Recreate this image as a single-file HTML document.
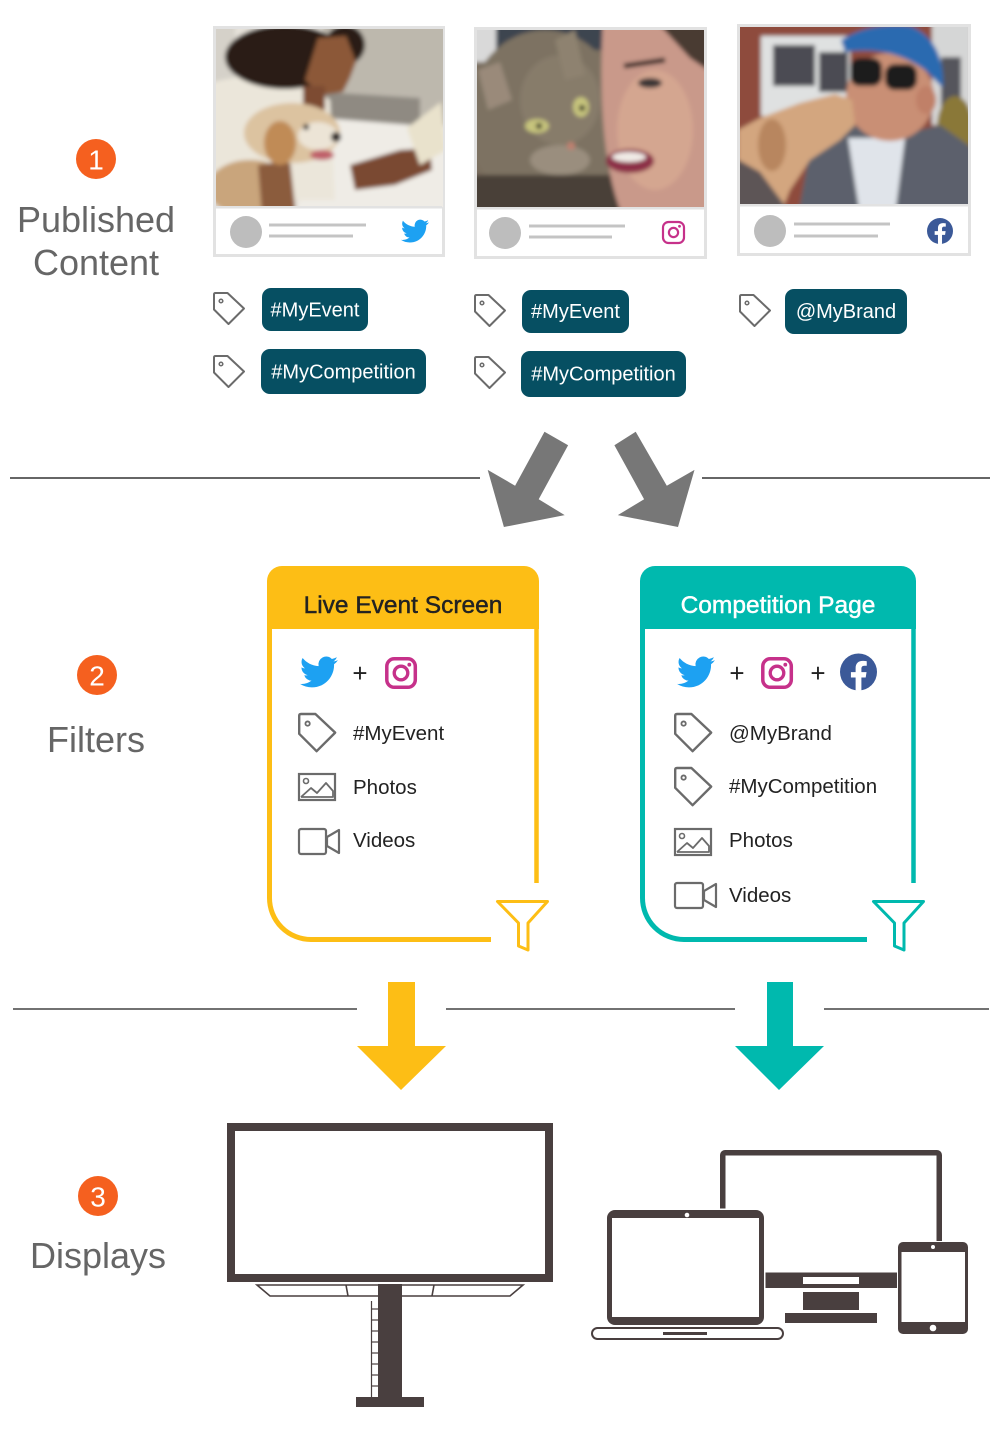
<!DOCTYPE html>
<html><head><meta charset="utf-8"><style>
html,body{margin:0;padding:0;background:#fff;}
svg{display:block;font-family:"Liberation Sans",Arial,sans-serif;}
</style></head><body>
<svg width="1000" height="1450" viewBox="0 0 1000 1450" xmlns="http://www.w3.org/2000/svg">
<defs>
<filter id="bl" x="-10%" y="-10%" width="120%" height="120%"><feGaussianBlur stdDeviation="2"/></filter>
<clipPath id="c1"><rect x="216" y="29" width="227" height="178"/></clipPath>
<clipPath id="c2"><rect x="477" y="30" width="227" height="178"/></clipPath>
<clipPath id="c3"><rect x="740" y="27" width="228" height="178"/></clipPath>
<path id="tw" d="M23.953 4.57a10 10 0 01-2.825.775 4.958 4.958 0 002.163-2.723c-.951.555-2.005.959-3.127 1.184a4.92 4.92 0 00-8.384 4.482C7.690 8.095 4.067 6.13 1.64 3.162a4.822 4.822 0 00-.666 2.475c0 1.71.87 3.213 2.188 4.096a4.904 4.904 0 01-2.228-.616v.06a4.923 4.923 0 003.946 4.827 4.996 4.996 0 01-2.212.085 4.936 4.936 0 004.604 3.417 9.867 9.867 0 01-6.102 2.105c-.39 0-.779-.023-1.17-.067a13.995 13.995 0 007.557 2.209c9.053 0 13.998-7.496 13.998-13.985 0-.21 0-.42-.015-.63A9.935 9.935 0 0024 4.59z" fill="#1da1f2"/>
<path id="fbf" d="M16.671 15.543l.532-3.47h-3.328v-2.25c0-.949.465-1.874 1.956-1.874h1.513V4.996s-1.374-.235-2.686-.235c-2.741 0-4.533 1.662-4.533 4.669v2.642H7.078v3.47h3.047v8.385a12.09 12.09 0 003.75 0v-8.385h2.796z" fill="#fff"/>
<g id="tag"><path d="M1 1.5 Q1 0 2.5 0 H14.5 L31 15.5 L15.5 31 L1 16.5 Z" fill="none" stroke="#6b6b6b" stroke-width="2" stroke-linejoin="round"/><circle cx="8" cy="8" r="1.8" fill="none" stroke="#6b6b6b" stroke-width="1.5"/></g>
</defs>

<!-- ===== Section 1 label ===== -->
<circle cx="96" cy="159" r="20" fill="#f5601f"/>
<text x="96" y="169.5" font-size="28" fill="#fff" text-anchor="middle">1</text>
<text x="96" y="232" font-size="36" fill="#666" text-anchor="middle">Published</text>
<text x="96" y="275" font-size="36" fill="#666" text-anchor="middle">Content</text>

<!-- ===== Card 1 ===== -->
<rect x="214.5" y="27.5" width="229" height="228" fill="#fff" stroke="#e2e2e2" stroke-width="3"/>
<g clip-path="url(#c1)">
 <g filter="url(#bl)">
  <rect x="205" y="20" width="250" height="195" fill="#e6e2da"/>
  <rect x="323" y="20" width="130" height="105" fill="#bdb8ad"/>
  <polygon points="323,92 420,98 420,150 323,140" fill="#8f8a82"/>
  <rect x="205" y="20" width="30" height="75" fill="#d5d1c9"/>
  <polygon points="323,118 450,128 450,215 295,215" fill="#efece6"/>
  <path d="M205 85 Q240 72 300 78 L330 100 L335 200 L205 200 Z" fill="#ebe6da"/>
  <ellipse cx="285" cy="57" rx="60" ry="32" fill="#2b1e17"/>
  <ellipse cx="345" cy="45" rx="20" ry="20" fill="#2b1e17"/>
  <polygon points="318,38 346,36 356,62 350,78 343,92 322,95 305,80" fill="#8c5839"/>
  <rect x="303" y="86" width="22" height="24" fill="#7d4c32"/>
  <ellipse cx="250" cy="188" rx="42" ry="28" fill="#c9a57c"/>
  <path d="M258 165 L290 160 L296 215 L262 215 Z" fill="#8b5b3d"/>
  <ellipse cx="292" cy="133" rx="48" ry="30" fill="#dcc3a0"/>
  <ellipse cx="280" cy="143" rx="16" ry="22" fill="#c08b57"/>
  <ellipse cx="318" cy="136" rx="20" ry="14" fill="#ece4d6"/>
  <circle cx="336" cy="137" r="5" fill="#2a2020"/>
  <circle cx="306" cy="127" r="3" fill="#2a2020"/>
  <ellipse cx="322" cy="155" rx="12" ry="5" fill="#c0606a"/>
  <path d="M350 165 L400 150 L430 148 L432 170 L395 185 L355 190 Z" fill="#7a4a30"/>
  <polygon points="407,128 441,102 446,150 420,165" fill="#e9e2cc"/>
 </g>
</g>
<rect x="216" y="206" width="226" height="2.5" fill="#e2e2e2"/>
<circle cx="246" cy="232" r="16" fill="#bdbdbd"/>
<rect x="269" y="223.5" width="97" height="3" fill="#c4c4c4"/>
<rect x="269" y="234.5" width="84" height="3" fill="#c4c4c4"/>
<use href="#tw" transform="translate(401,217) scale(1.17)"/>

<!-- ===== Card 2 ===== -->
<rect x="475.5" y="28.5" width="230" height="229" fill="#fff" stroke="#e2e2e2" stroke-width="3"/>
<g clip-path="url(#c2)">
 <g filter="url(#bl)">
  <rect x="470" y="20" width="245" height="200" fill="#7a6e5f"/>
  <rect x="494" y="20" width="110" height="30" fill="#3e4450"/>
  <rect x="468" y="20" width="28" height="42" fill="#d9d9d9"/>
  <ellipse cx="545" cy="118" rx="78" ry="88" fill="#7d7262"/>
  <ellipse cx="560" cy="100" rx="40" ry="45" fill="#877c6b"/>
  <path d="M478 70 L500 62 L512 100 L488 110 Z" fill="#9a8a7a"/>
  <path d="M555 40 L575 30 L585 75 L565 80 Z" fill="#8e8270"/>
  <rect x="470" y="175" width="150" height="40" fill="#4a4038"/>
  <ellipse cx="560" cy="160" rx="30" ry="15" fill="#9a8e7e"/>
  <path d="M603 20 L715 20 L715 215 L622 215 Q596 150 603 20 Z" fill="#c9998a"/>
  <ellipse cx="655" cy="130" rx="38" ry="60" fill="#d4a690"/>
  <polygon points="655,20 715,20 715,75 690,58" fill="#4a3a33"/>
  <path d="M624 66 L665 60" stroke="#3a2a25" stroke-width="5"/>
  <ellipse cx="650" cy="83" rx="12" ry="5" fill="#3b3435"/>
  <ellipse cx="630" cy="161" rx="24" ry="12" fill="#8c2f47"/>
  <ellipse cx="629" cy="157" rx="17" ry="5" fill="#f0ebe6"/>
  <ellipse cx="537" cy="126" rx="12" ry="7" fill="#c7c57d"/>
  <circle cx="539" cy="126" r="3" fill="#222"/>
  <ellipse cx="581" cy="107" rx="8" ry="10" fill="#c7c57d"/>
  <circle cx="582" cy="108" r="3" fill="#222"/>
  <circle cx="571" cy="146" r="4" fill="#c08070"/>
 </g>
</g>
<rect x="477" y="207" width="227" height="2.5" fill="#e2e2e2"/>
<circle cx="505" cy="233" r="16" fill="#bdbdbd"/>
<rect x="529" y="224.5" width="96" height="3" fill="#c4c4c4"/>
<rect x="529" y="235.5" width="83" height="3" fill="#c4c4c4"/>
<rect x="663" y="222" width="21" height="21" rx="5.5" fill="none" stroke="#c6318a" stroke-width="2.2"/>
<circle cx="673.5" cy="232.5" r="4.6" fill="none" stroke="#c6318a" stroke-width="2.2"/>
<circle cx="679.5" cy="226.3" r="1.4" fill="#c6318a"/>

<!-- ===== Card 3 ===== -->
<rect x="738.5" y="25.5" width="231" height="229" fill="#fff" stroke="#e2e2e2" stroke-width="3"/>
<g clip-path="url(#c3)">
 <g filter="url(#bl)">
  <rect x="735" y="20" width="240" height="195" fill="#8e4b3c"/>
  <rect x="761" y="36" width="89" height="80" fill="#dfe1e1"/>
  <rect x="773" y="45" width="42" height="41" fill="#4b4b53"/>
  <rect x="819" y="52" width="29" height="40" fill="#4b4b53"/>
  <rect x="932" y="20" width="40" height="105" fill="#d5d6d6"/>
  <rect x="941" y="57" width="20" height="51" fill="#55555c"/>
  <ellipse cx="955" cy="128" rx="18" ry="32" fill="#8a7838"/>
  <path d="M798 215 L810 150 L850 125 L900 135 L940 125 L975 150 L975 215 Z" fill="#5b616c"/>
  <polygon points="848,138 905,138 895,215 860,215" fill="#e0e4ea"/>
  <ellipse cx="890" cy="97" rx="44" ry="44" fill="#c98f75"/>
  <ellipse cx="926" cy="100" rx="10" ry="14" fill="#c08068"/>
  <path d="M841 40 Q870 22 910 26 Q945 40 943 88 L925 70 Q890 45 845 52 Z" fill="#2a6bb0"/>
  <rect x="850" y="58" width="32" height="28" rx="10" fill="#1a1a1e"/>
  <rect x="885" y="64" width="32" height="26" rx="10" fill="#1a1a1e"/>
  <path d="M738 215 L738 130 L760 118 L800 103 L835 94 L852 100 L855 125 L840 140 L810 160 L790 190 L780 215 Z" fill="#d3a67f"/>
  <ellipse cx="772" cy="145" rx="14" ry="26" fill="#b8865f"/>
  <path d="M735 158 L760 172 L792 215 L735 215 Z" fill="#5d5456"/>
 </g>
</g>
<rect x="740" y="204" width="228" height="2.5" fill="#e2e2e2"/>
<circle cx="770" cy="231" r="16" fill="#bdbdbd"/>
<rect x="794" y="222.5" width="96" height="3" fill="#c4c4c4"/>
<rect x="794" y="234.5" width="84" height="3" fill="#c4c4c4"/>
<circle cx="940" cy="231" r="13" fill="#3b5998"/>
<use href="#fbf" transform="translate(927,218) scale(1.083)"/>

<!-- ===== Tags ===== -->
<use href="#tag" transform="translate(213,293)"/>
<rect x="262" y="288" width="106" height="43" rx="9" fill="#064f62"/>
<text x="315" y="316.5" font-size="20" fill="#fff" text-anchor="middle">#MyEvent</text>
<use href="#tag" transform="translate(213,356)"/>
<rect x="261" y="349" width="165" height="45" rx="9" fill="#064f62"/>
<text x="343.5" y="378.5" font-size="20" fill="#fff" text-anchor="middle">#MyCompetition</text>

<use href="#tag" transform="translate(474,295)"/>
<rect x="522" y="290" width="107" height="43" rx="9" fill="#064f62"/>
<text x="575.5" y="318" font-size="20" fill="#fff" text-anchor="middle">#MyEvent</text>
<use href="#tag" transform="translate(474,357)"/>
<rect x="521" y="351" width="165" height="46" rx="9" fill="#064f62"/>
<text x="603.5" y="380.5" font-size="20" fill="#fff" text-anchor="middle">#MyCompetition</text>

<use href="#tag" transform="translate(739,295)"/>
<rect x="785" y="289" width="122" height="45" rx="9" fill="#064f62"/>
<text x="846" y="318" font-size="20" fill="#fff" text-anchor="middle">@MyBrand</text>

<!-- ===== Divider 1 + gray arrows ===== -->
<line x1="10" y1="478" x2="480" y2="478" stroke="#333" stroke-width="1.4"/>
<line x1="702" y1="478" x2="990" y2="478" stroke="#333" stroke-width="1.4"/>
<polygon points="544.5,431.7 568.1,445.2 538.7,499.3 564.7,515.1 503.9,527 487.7,469.9 515.1,485.7" fill="#777"/>
<polygon points="635.7,431.7 614.4,445.2 644.1,499.3 617.8,515.1 678,527 694.5,469.9 666.8,485.7" fill="#777"/>

<!-- ===== Section 2 label ===== -->
<circle cx="97" cy="675" r="20" fill="#f5601f"/>
<text x="97" y="685.5" font-size="28" fill="#fff" text-anchor="middle">2</text>
<text x="96" y="752" font-size="36" fill="#666" text-anchor="middle">Filters</text>

<!-- ===== Filter box 1 ===== -->
<path d="M267 629 V581 A15 15 0 0 1 282 566 H524 A15 15 0 0 1 539 581 V629 Z" fill="#fdbe15"/>
<path d="M269.5 627 V898 A41.5 41.5 0 0 0 311 939.5 H491" fill="none" stroke="#fdbe15" stroke-width="5"/>
<path d="M536.5 627 V883" fill="none" stroke="#fdbe15" stroke-width="4.5"/>
<polygon points="497.5,901.5 547.5,901.5 528,923 528,950 518.5,946 518.5,923" fill="none" stroke="#fdbe15" stroke-width="3" stroke-linejoin="round"/>
<text x="403" y="613" font-size="24.5" fill="#222" text-anchor="middle" stroke="#222" stroke-width="0.45">Live Event Screen</text>

<use href="#tw" transform="translate(300,653) scale(1.58)"/>
<text x="360" y="682" font-size="26" fill="#222" text-anchor="middle">+</text>
<rect x="386.8" y="658.8" width="28.5" height="28.5" rx="7.5" fill="none" stroke="#c6318a" stroke-width="3.5"/>
<circle cx="401" cy="673" r="6.8" fill="none" stroke="#c6318a" stroke-width="3.3"/>
<circle cx="409.3" cy="664.7" r="1.9" fill="#c6318a"/>

<use href="#tag" transform="translate(298,714) scale(1.2)"/>
<text x="353" y="740" font-size="20.5" fill="#222">#MyEvent</text>
<rect x="299" y="774" width="36" height="26" fill="none" stroke="#6b6b6b" stroke-width="2.2"/>
<circle cx="306" cy="781" r="2.5" fill="none" stroke="#6b6b6b" stroke-width="1.6"/>
<polyline points="301,797 311,788 317,793 326,783 333,791 333,797 301,797" fill="none" stroke="#6b6b6b" stroke-width="1.8" stroke-linejoin="round"/>
<text x="353" y="794" font-size="20.5" fill="#222">Photos</text>
<rect x="299" y="829" width="27" height="25" rx="2" fill="none" stroke="#6b6b6b" stroke-width="2.2"/>
<polygon points="327,837 339,830 339,853 327,846" fill="none" stroke="#6b6b6b" stroke-width="2.2" stroke-linejoin="round"/>
<text x="353" y="847" font-size="20.5" fill="#222">Videos</text>

<!-- ===== Filter box 2 ===== -->
<path d="M640 629 V581 A15 15 0 0 1 655 566 H901 A15 15 0 0 1 916 581 V629 Z" fill="#00b9ae"/>
<path d="M642.5 627 V898 A41.5 41.5 0 0 0 684 939.5 H867" fill="none" stroke="#00b9ae" stroke-width="5"/>
<path d="M913.5 627 V883" fill="none" stroke="#00b9ae" stroke-width="4.5"/>
<polygon points="873.5,901.5 923.5,901.5 904,923 904,950 894.5,946 894.5,923" fill="none" stroke="#00b9ae" stroke-width="3" stroke-linejoin="round"/>
<text x="778" y="613" font-size="24.5" fill="#fff" text-anchor="middle" stroke="#fff" stroke-width="0.45">Competition Page</text>

<use href="#tw" transform="translate(677,653) scale(1.58)"/>
<text x="737" y="682" font-size="26" fill="#222" text-anchor="middle">+</text>
<rect x="762.8" y="658.8" width="28.5" height="28.5" rx="7.5" fill="none" stroke="#c6318a" stroke-width="3.5"/>
<circle cx="777" cy="673" r="6.8" fill="none" stroke="#c6318a" stroke-width="3.3"/>
<circle cx="785.3" cy="664.7" r="1.9" fill="#c6318a"/>
<text x="818" y="682" font-size="26" fill="#222" text-anchor="middle">+</text>
<circle cx="858.5" cy="672" r="18.5" fill="#3b5998"/>
<use href="#fbf" transform="translate(840,653.5) scale(1.542)"/>

<use href="#tag" transform="translate(674,714) scale(1.2)"/>
<text x="729" y="740" font-size="20.5" fill="#222">@MyBrand</text>
<use href="#tag" transform="translate(674,768) scale(1.2)"/>
<text x="729" y="793" font-size="20.5" fill="#222">#MyCompetition</text>
<rect x="675" y="829" width="36" height="26" fill="none" stroke="#6b6b6b" stroke-width="2.2"/>
<circle cx="682" cy="836" r="2.5" fill="none" stroke="#6b6b6b" stroke-width="1.6"/>
<polyline points="677,852 687,843 693,848 702,838 709,846 709,852 677,852" fill="none" stroke="#6b6b6b" stroke-width="1.8" stroke-linejoin="round"/>
<text x="729" y="847" font-size="20.5" fill="#222">Photos</text>
<rect x="675" y="883" width="28" height="25" rx="2" fill="none" stroke="#6b6b6b" stroke-width="2.2"/>
<polygon points="704,891 716,884 716,907 704,900" fill="none" stroke="#6b6b6b" stroke-width="2.2" stroke-linejoin="round"/>
<text x="729" y="902" font-size="20.5" fill="#222">Videos</text>

<!-- ===== Divider 2 + arrows ===== -->
<line x1="13" y1="1009" x2="357" y2="1009" stroke="#444" stroke-width="1.5"/>
<line x1="446" y1="1009" x2="735" y2="1009" stroke="#444" stroke-width="1.5"/>
<line x1="824" y1="1009" x2="989" y2="1009" stroke="#444" stroke-width="1.5"/>
<polygon points="388,982 415,982 415,1046 446,1046 401,1090 357,1046 388,1046" fill="#fdbe15"/>
<polygon points="767,982 793,982 793,1046 824,1046 779,1090 735,1046 767,1046" fill="#00b9ae"/>

<!-- ===== Section 3 label ===== -->
<circle cx="98" cy="1196" r="20" fill="#f5601f"/>
<text x="98" y="1206.5" font-size="28" fill="#fff" text-anchor="middle">3</text>
<text x="98" y="1268" font-size="36" fill="#666" text-anchor="middle">Displays</text>

<!-- ===== Billboard ===== -->
<rect x="227" y="1123" width="326" height="159" fill="#493f3f"/>
<rect x="235" y="1131" width="310" height="143" fill="#fff"/>
<polygon points="257,1285 523,1285 510,1296 270,1296" fill="none" stroke="#493f3f" stroke-width="1.6"/>
<line x1="346" y1="1285" x2="348" y2="1296" stroke="#493f3f" stroke-width="1.6"/>
<line x1="434" y1="1285" x2="432" y2="1296" stroke="#493f3f" stroke-width="1.6"/>
<rect x="378" y="1284" width="24" height="114" fill="#493f3f"/>
<rect x="356" y="1397" width="68" height="10" fill="#493f3f"/>
<line x1="371.5" y1="1301" x2="371.5" y2="1397" stroke="#493f3f" stroke-width="1.2"/>
<g stroke="#493f3f" stroke-width="1.2">
<line x1="371" y1="1309" x2="378" y2="1309"/><line x1="371" y1="1320" x2="378" y2="1320"/>
<line x1="371" y1="1331" x2="378" y2="1331"/><line x1="371" y1="1342" x2="378" y2="1342"/>
<line x1="371" y1="1353" x2="378" y2="1353"/><line x1="371" y1="1364" x2="378" y2="1364"/>
<line x1="371" y1="1375" x2="378" y2="1375"/><line x1="371" y1="1386" x2="378" y2="1386"/>
</g>

<!-- ===== Devices ===== -->
<rect x="720" y="1150" width="222" height="138" rx="5" fill="#493f3f"/>
<rect x="725.5" y="1155.5" width="211" height="117" fill="#fff"/>
<rect x="803" y="1277" width="56" height="7" fill="#fff"/>
<rect x="803" y="1292" width="56" height="18" fill="#493f3f"/>
<rect x="785" y="1313" width="92" height="10" fill="#493f3f"/>

<rect x="605.5" y="1208.5" width="160" height="118" rx="9" fill="#fff"/>
<rect x="607" y="1210" width="157" height="115" rx="8" fill="#493f3f"/>
<rect x="612" y="1218" width="147" height="99" fill="#fff"/>
<circle cx="687" cy="1215" r="2.3" fill="#fff"/>
<rect x="592" y="1328" width="191" height="11" rx="5.5" fill="#fff" stroke="#493f3f" stroke-width="2"/>
<rect x="663" y="1332" width="44" height="3" fill="#493f3f"/>

<rect x="897" y="1241" width="72" height="94" rx="6" fill="#fff"/>
<rect x="898" y="1242" width="70" height="92" rx="5" fill="#493f3f"/>
<rect x="901.5" y="1252" width="63.5" height="70" fill="#fff"/>
<circle cx="933" cy="1247" r="2" fill="#fff"/>
<circle cx="933" cy="1328" r="3.3" fill="#fff"/>
</svg>
</body></html>
